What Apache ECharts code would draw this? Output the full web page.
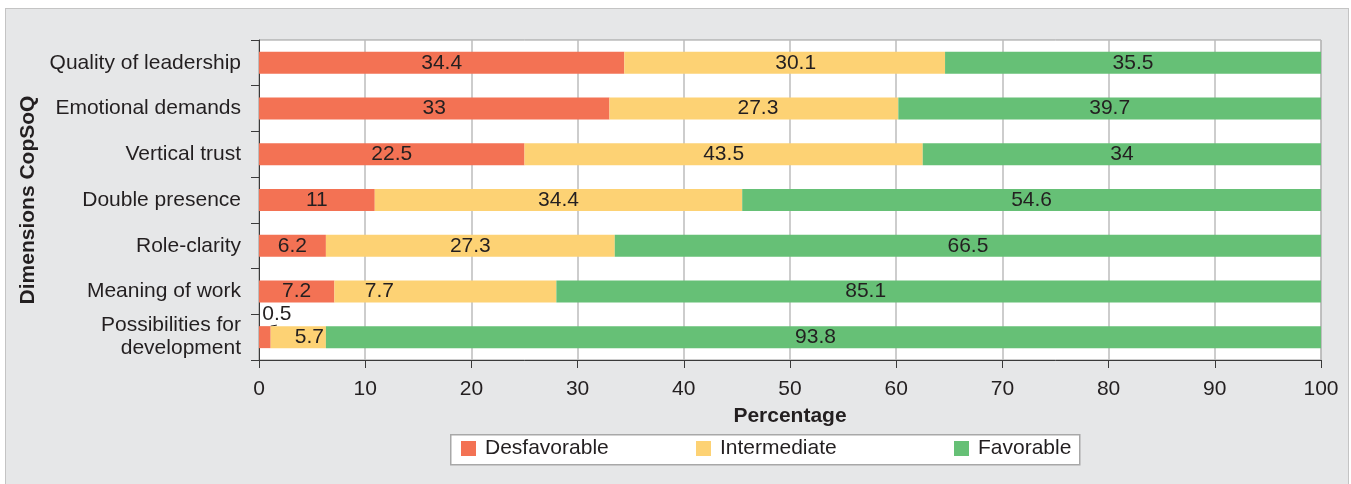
<!DOCTYPE html>
<html>
<head>
<meta charset="utf-8">
<script src="https://cdn.jsdelivr.net/npm/echarts@6/dist/echarts.min.js"></script>
<style>
  html, body { margin: 0; padding: 0; background: #ffffff; }
  #frame { position: absolute; left: 5px; top: 8px; width: 1344px; height: 480px;
           background: #e6e7e8; border: 1px solid #c4c4c4; box-sizing: border-box; }
  #chart { position: absolute; left: 0; top: 0; width: 1351px; height: 484px; }
</style>
</head>
<body>
<div id="frame"></div>
<div id="chart"></div>
<script>
// Categories (top to bottom)
const categories = [
  'Quality of leadership',
  'Emotional demands',
  'Vertical trust',
  'Double presence',
  'Role-clarity',
  'Meaning of work',
  'Possibilities for\ndevelopment'
];
// Segment lengths as drawn in the picture (percent)
const desfavorable = [34.4, 33.0, 25.0, 10.9, 6.3, 7.1, 1.1];
const intermediate = [30.2, 27.2, 37.5, 34.6, 27.2, 20.9, 5.2];
const favorable    = [35.4, 39.8, 37.5, 54.5, 66.5, 72.0, 93.7];
// Value labels printed on the bars
const desfavorableLabels = ['34.4', '33', '22.5', '11', '6.2', '7.2', '0.5'];
const intermediateLabels = ['30.1', '27.3', '43.5', '34.4', '27.3', '7.7', '5.7'];
const favorableLabels    = ['35.5', '39.7', '34', '54.6', '66.5', '85.1', '93.8'];
const seriesNames = ['Desfavorable', 'Intermediate', 'Favorable'];
const xTicks = [0, 10, 20, 30, 40, 50, 60, 70, 80, 90, 100];

const FONT = "'Liberation Sans', Arial, Helvetica, sans-serif";
const TXT = '#231f20';

// label placement tweaks (style only)
const offDes = [[0,0],[0,0],[0,0],[0,0],[0,0],[-4,0],[0,0]];
const offInt = [[11,0],[4,0],[0,0],[0,0],[0,0],[-66,0],[11,0]];
const offFav = [[0,0],[0,0],[0,0],[0,0],[0,0],[-73,0],[-8,0]];

function build(vals, labels, offs, special) {
  return vals.map((v, i) => {
    const item = { value: v, label: { formatter: labels[i], offset: offs[i] } };
    if (special && special[i]) Object.assign(item.label, special[i]);
    return item;
  });
}

const labelBase = { show: true, position: 'inside', fontSize: 21, color: TXT, fontFamily: FONT };
const legendLefts = [461, 696, 954];

const chart = echarts.init(document.getElementById('chart'));
chart.setOption({
  animation: false,
  textStyle: { fontFamily: FONT, color: TXT },
  grid: { left: 259, right: 30, top: 40, bottom: 124, show: true,
          backgroundColor: '#ffffff', borderColor: '#9a9a9a', borderWidth: 1 },
  graphic: [{
    type: 'rect', z: 0, left: 450, top: 434,
    shape: { width: 629, height: 30 },
    style: { fill: '#ffffff', stroke: '#a8a8a8', lineWidth: 1.5 }
  }],
  xAxis: {
    type: 'value', min: xTicks[0], max: xTicks[xTicks.length - 1], interval: 10,
    name: 'Percentage', nameLocation: 'middle', nameGap: 46,
    nameTextStyle: { fontSize: 21, fontWeight: 'bold', color: TXT, fontFamily: FONT },
    axisLine: { show: true, lineStyle: { color: '#3a3a3a', width: 1 } },
    axisTick: { show: true, length: 8, lineStyle: { color: '#3a3a3a' } },
    axisLabel: { fontSize: 21, color: TXT, margin: 19, fontFamily: FONT },
    splitLine: { show: true, lineStyle: { color: '#bcbcbc', width: 1.5 } }
  },
  yAxis: {
    type: 'category', data: categories, inverse: true,
    name: 'Dimensions CopSoQ', nameLocation: 'middle', nameGap: 213,
    nameTextStyle: { fontSize: 21, fontWeight: 'bold', color: TXT, fontFamily: FONT },
    axisLine: { show: true, lineStyle: { color: '#3a3a3a', width: 1 } },
    axisTick: { show: true, length: 8, lineStyle: { color: '#3a3a3a' } },
    axisLabel: { fontSize: 21, color: TXT, margin: 18, lineHeight: 23, fontFamily: FONT },
    splitLine: { show: false }
  },
  legend: seriesNames.map((n, i) => ({
    left: legendLefts[i], top: 438, padding: 0, z: 5,
    itemWidth: 15, itemHeight: 15, icon: 'rect', selectedMode: false,
    textStyle: { fontSize: 21, color: TXT, fontFamily: FONT, padding: [0, 0, 0, 4] },
    data: [n]
  })),
  series: [
    { name: seriesNames[0], type: 'bar', stack: 'total', barWidth: 22,
      itemStyle: { color: '#f37254' }, label: labelBase,
      labelLine: { show: true, length2: 0, lineStyle: { color: TXT, width: 1 } },
      labelLayout: function (p) {
        if (p.dataIndex === 6) return { dx: 12, dy: 3 };
        return {};
      },
      data: build(desfavorable, desfavorableLabels, offDes, { 6: { position: 'top', distance: 4 } }) },
    { name: seriesNames[1], type: 'bar', stack: 'total', barWidth: 22,
      itemStyle: { color: '#fdd274' }, label: labelBase,
      data: build(intermediate, intermediateLabels, offInt) },
    { name: seriesNames[2], type: 'bar', stack: 'total', barWidth: 22,
      itemStyle: { color: '#66c076' }, label: labelBase,
      data: build(favorable, favorableLabels, offFav) }
  ]
});
</script>
</body>
</html>
